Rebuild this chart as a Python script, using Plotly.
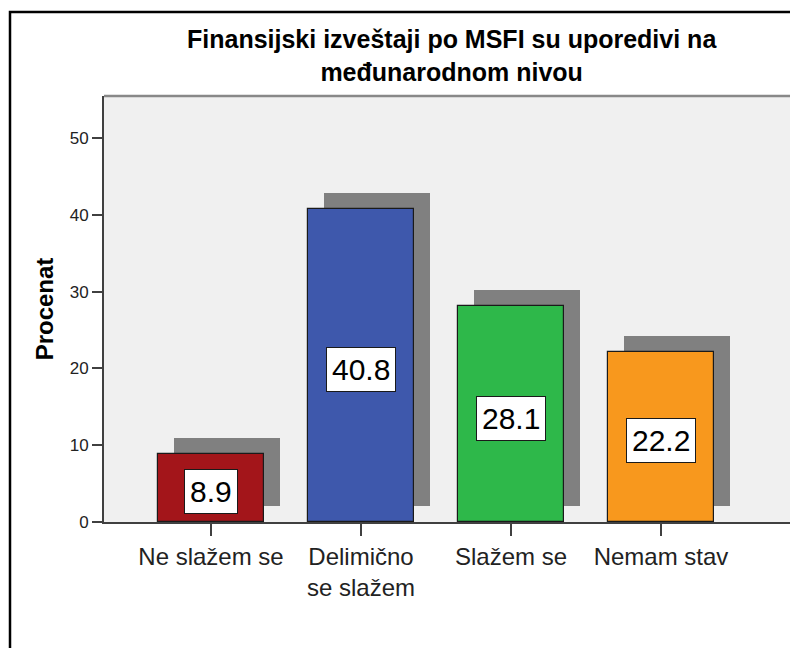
import plotly.graph_objects as go

categories = ["Ne slažem se", "Delimično se slažem", "Slažem se", "Nemam stav"]
tick_labels = ["Ne slažem se", "Delimično<br>se slažem", "Slažem se", "Nemam stav"]
values = [8.9, 40.8, 28.1, 22.2]
value_labels = ["8.9", "40.8", "28.1", "22.2"]
bar_colors = ["#A3151A", "#3E58AC", "#2EB84A", "#F8981D"]
title_text = "Finansijski izveštaji po MSFI su uporedivi na<br>međunarodnom nivou"

FONT = "Liberation Sans, Arial, sans-serif"
OFF = 8  # page body margin
W, H = 798 - OFF, 648 - OFF
ml, mr, mt = 104 - OFF, 0, 96 - OFF
mb = H - (522 - OFF)
plot_w = W - ml - mr
plot_h = H - mt - mb
px_per_cat = 150.0
x_min = -107 / px_per_cat
x_max = x_min + plot_w / px_per_cat
px_per_unit = 7.68
y_max = plot_h / px_per_unit
bar_w = 106 / px_per_cat
shadow_dx = 16 / px_per_cat
shadow_dy = 16 / px_per_unit


def px_x(p):
    return (p - OFF - ml) / plot_w


def px_y(p):
    return (H - mb - (p - OFF)) / plot_h


fig = go.Figure()
# shadows
fig.add_trace(go.Bar(
    x=categories, y=values, base=shadow_dy, width=bar_w,
    offset=-bar_w / 2 + shadow_dx,
    marker=dict(color="#808080", line=dict(width=0)),
    hoverinfo="skip", showlegend=False,
))
# bars
fig.add_trace(go.Bar(
    x=categories, y=values, width=bar_w, offset=-bar_w / 2,
    marker=dict(color=bar_colors, line=dict(color="#1a1a1a", width=1.2)),
    showlegend=False,
))

# title
fig.add_annotation(
    xref="paper", yref="paper", x=px_x(452), y=px_y(56),
    text="<b>" + title_text + "</b>",
    showarrow=False, xanchor="center", yanchor="middle", align="center",
    font=dict(family=FONT, size=25, color="black"),
)
for c, v, t in zip(categories, values, value_labels):
    fig.add_annotation(
        x=c, y=v / 2, text=t, showarrow=False, yshift=-4,
        font=dict(family=FONT, size=30, color="black"),
        bgcolor="white", bordercolor="#1a1a1a", borderwidth=1, borderpad=5,
    )

# outer frame and plot top border
fig.add_shape(type="rect", xref="paper", yref="paper",
              x0=px_x(10), x1=1.2, y0=-0.6, y1=px_y(12),
              line=dict(color="black", width=2.5), fillcolor="rgba(0,0,0,0)", layer="above")
fig.add_shape(type="line", xref="paper", yref="paper", x0=0, x1=1, y0=1, y1=1,
              line=dict(color="#888888", width=2.5), layer="above")

fig.update_layout(
    width=W, height=H,
    margin=dict(l=ml, r=mr, t=mt, b=mb),
    paper_bgcolor="white", plot_bgcolor="#F0F0F0",
    barmode="overlay", bargap=0,
    font=dict(family=FONT, color="black"),
    showlegend=False,
)
fig.update_xaxes(
    type="category", range=[x_min, x_max],
    tickvals=categories, ticktext=tick_labels,
    showgrid=False, zeroline=False,
    showline=True, linecolor="#404040", linewidth=2,
    ticks="outside", ticklen=12, tickwidth=2, tickcolor="#404040",
    tickfont=dict(family=FONT, size=24, color="#222222"),
)
fig.update_yaxes(
    range=[0, y_max], tickvals=[0, 10, 20, 30, 40, 50],
    showgrid=False, zeroline=False,
    showline=True, linecolor="#404040", linewidth=2,
    ticks="outside", ticklen=10, tickwidth=2, tickcolor="#404040",
    tickfont=dict(family=FONT, size=17, color="#222222"),
    title=dict(text="<b>Procenat</b>", font=dict(family=FONT, size=24, color="black"), standoff=9),
)

fig.write_html("out.html")
